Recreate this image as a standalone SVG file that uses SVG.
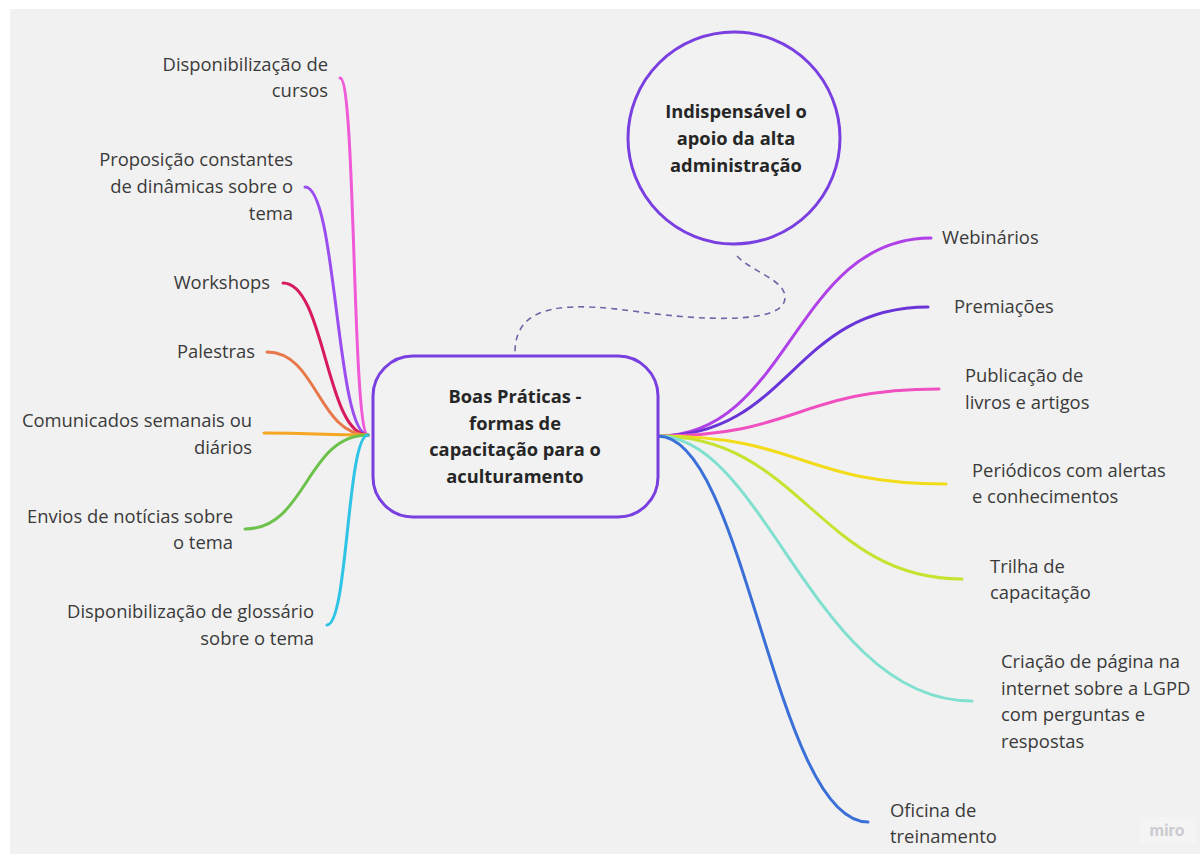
<svg xmlns="http://www.w3.org/2000/svg" width="1200" height="854" viewBox="0 0 1200 854">
  <style>
    .lbl { font-family: "Open Sans", "Noto Sans", "DejaVu Sans", sans-serif; font-size: 18.4px; fill: #3a3a3a; }
    .end { text-anchor: end; }
    .hub { font-family: "Open Sans", "Noto Sans", "DejaVu Sans", sans-serif; font-size: 18.3px; font-weight: 700; fill: #262626; text-anchor: middle; }
    .br { fill: none; stroke-width: 3; stroke-linecap: round; }
    .shape { fill: #f2f2f2; stroke: #7a3fe0; stroke-width: 3; }
  </style>

  <!-- canvas -->
  <rect x="0" y="0" width="1200" height="854" fill="#ffffff"/>
  <rect x="10" y="9" width="1190" height="845" fill="#f1f1f1"/>

  <!-- branch connectors -->
  <g id="connectors">
    <!-- left side, from hub left edge -->
    <path class="br" stroke="#f05ad8" d="M368,435 C352,435 356,78 340,78"/>
    <path class="br" stroke="#9a4ef0" d="M368,435 C336,435 337,187 305,187"/>
    <path class="br" stroke="#d81b60" d="M368,435 C326,435 325,283 283,283"/>
    <path class="br" stroke="#e8784a" d="M368,435 C318,435 317,352 267,352"/>
    <path class="br" stroke="#f5a623" d="M368,435 C316,435 316,433 264,433"/>
    <path class="br" stroke="#6cc24a" d="M368,435 C306,435 307,529 245,529"/>
    <path class="br" stroke="#2ec4e6" d="M368,435 C347,435 348,625 327,625"/>
    <!-- right side, from hub right edge -->
    <path class="br" stroke="#b040e8" d="M658,436 C790,436 794,238 931,238"/>
    <path class="br" stroke="#6a35d8" d="M658,436 C790,436 793,307 928,307"/>
    <path class="br" stroke="#f050c0" d="M658,436 C799,436 798,389 939,389"/>
    <path class="br" stroke="#f2dc1a" d="M658,436 C802,436 802,484 946,484"/>
    <path class="br" stroke="#c5e330" d="M658,436 C800,436 820,579 962,579"/>
    <path class="br" stroke="#80e0d0" d="M658,436 C765,436 815,701 972,701"/>
    <path class="br" stroke="#3b6fd8" d="M658,436 C745,436 775,822 868,822"/>
    <!-- dashed link between hub and the callout circle -->
    <path fill="none" stroke="#6e64a8" stroke-width="1.6" stroke-dasharray="6 5"
          d="M737,256 C752,272 786,280 785,298 C784,325 700,320 640,312 C575,303 515,300 515,352"/>
  </g>

  <!-- central hub -->
  <g id="hub">
    <rect class="shape" x="373" y="356" width="285" height="161" rx="40" ry="40"/>
    <text class="hub" x="515" y="403">Boas Práticas -</text>
    <text class="hub" x="515" y="430">formas de</text>
    <text class="hub" x="515" y="456">capacitação para o</text>
    <text class="hub" x="515" y="483">aculturamento</text>
  </g>

  <!-- callout circle -->
  <g id="callout">
    <circle class="shape" cx="734" cy="138" r="106"/>
    <text class="hub" x="736" y="118">Indispensável o</text>
    <text class="hub" x="736" y="145">apoio da alta</text>
    <text class="hub" x="736" y="172">administração</text>
  </g>

  <!-- left topics -->
  <g id="cursos">
    <text class="lbl end" x="328" y="71">Disponibilização de</text>
    <text class="lbl end" x="328" y="97">cursos</text>
  </g>
  <g id="dinamicas">
    <text class="lbl end" x="293" y="166">Proposição constantes</text>
    <text class="lbl end" x="293" y="193">de dinâmicas sobre o</text>
    <text class="lbl end" x="293" y="220">tema</text>
  </g>
  <g id="workshops">
    <text class="lbl end" x="270" y="289">Workshops</text>
  </g>
  <g id="palestras">
    <text class="lbl end" x="255" y="358">Palestras</text>
  </g>
  <g id="comunicados">
    <text class="lbl end" x="252" y="427">Comunicados semanais ou</text>
    <text class="lbl end" x="252" y="454">diários</text>
  </g>
  <g id="envios">
    <text class="lbl end" x="233" y="523">Envios de notícias sobre</text>
    <text class="lbl end" x="233" y="549">o tema</text>
  </g>
  <g id="glossario">
    <text class="lbl end" x="314" y="618">Disponibilização de glossário</text>
    <text class="lbl end" x="314" y="645">sobre o tema</text>
  </g>

  <!-- right topics -->
  <g id="webinarios">
    <text class="lbl" x="942" y="244">Webinários</text>
  </g>
  <g id="premiacoes">
    <text class="lbl" x="954" y="313">Premiações</text>
  </g>
  <g id="publicacao">
    <text class="lbl" x="965" y="382">Publicação de</text>
    <text class="lbl" x="965" y="409">livros e artigos</text>
  </g>
  <g id="periodicos">
    <text class="lbl" x="972" y="477">Periódicos com alertas</text>
    <text class="lbl" x="972" y="503">e conhecimentos</text>
  </g>
  <g id="trilha">
    <text class="lbl" x="990" y="573">Trilha de</text>
    <text class="lbl" x="990" y="599">capacitação</text>
  </g>
  <g id="pagina">
    <text class="lbl" x="1001" y="668">Criação de página na</text>
    <text class="lbl" x="1001" y="695">internet sobre a LGPD</text>
    <text class="lbl" x="1001" y="721">com perguntas e</text>
    <text class="lbl" x="1001" y="748">respostas</text>
  </g>
  <g id="oficina">
    <text class="lbl" x="890" y="817">Oficina de</text>
    <text class="lbl" x="890" y="843">treinamento</text>
  </g>

  <!-- board watermark -->
  <g id="watermark">
    <rect x="1140" y="817" width="56" height="26" fill="#f4f4f4"/>
    <text x="1167" y="836" text-anchor="middle" font-family="Inter, 'Open Sans', sans-serif" font-size="16" font-weight="700" fill="#cbcbd0">miro</text>
  </g>
</svg>
